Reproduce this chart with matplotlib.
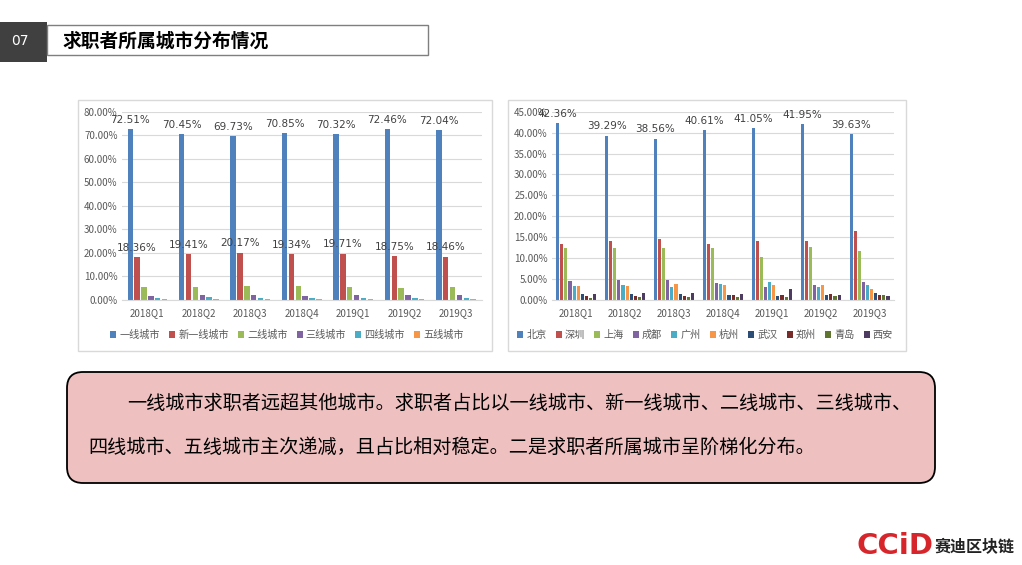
import numpy as np
import matplotlib
matplotlib.use("Agg")
import matplotlib.pyplot as plt
from matplotlib.patches import Rectangle, FancyBboxPatch

plt.rcParams["font.family"] = ["Noto Sans CJK SC", "DejaVu Sans"]

quarters = ["2018Q1", "2018Q2", "2018Q3", "2018Q4", "2019Q1", "2019Q2", "2019Q3"]

# left chart: city tiers (%)
tier_names = ["一线城市", "新一线城市", "二线城市", "三线城市", "四线城市", "五线城市"]
tier_1 = [72.51, 70.45, 69.73, 70.85, 70.32, 72.46, 72.04]
tier_new1 = [18.36, 19.41, 20.17, 19.34, 19.71, 18.75, 18.46]
tier_2 = [5.4, 5.4, 5.9, 5.9, 5.4, 5.0, 5.4]
tier_3 = [1.7, 2.1, 2.1, 1.7, 2.1, 2.1, 2.1]
tier_4 = [1.0, 1.3, 1.0, 0.9, 0.9, 0.9, 0.9]
tier_5 = [0.5, 0.5, 0.5, 0.5, 0.5, 0.5, 0.5]

# right chart: cities (%)
city_names = ["北京", "深圳", "上海", "成都", "广州", "杭州", "武汉", "郑州", "青岛", "西安"]
beijing = [42.36, 39.29, 38.56, 40.61, 41.05, 41.95, 39.63]
shenzhen = [13.5, 14.1, 14.6, 13.4, 14.1, 14.1, 16.5]
shanghai = [12.4, 12.4, 12.4, 12.4, 10.3, 12.7, 11.7]
chengdu = [4.5, 4.8, 4.8, 4.1, 3.1, 3.6, 4.3]
guangzhou = [3.3, 3.6, 3.1, 3.8, 4.3, 3.1, 3.6]
hangzhou = [3.3, 3.3, 3.8, 3.6, 3.6, 3.6, 2.6]
wuhan = [1.4, 1.4, 1.4, 1.2, 1.0, 1.2, 1.7]
zhengzhou = [1.0, 1.0, 1.0, 1.2, 1.2, 1.4, 1.2]
qingdao = [0.5, 0.7, 0.7, 0.7, 0.7, 1.0, 1.2]
xian = [1.4, 1.7, 1.7, 1.4, 2.6, 1.2, 1.0]

palette = ["#4F81BD", "#C0504D", "#9BBB59", "#8064A2", "#4BACC6",
           "#F79646", "#2C4D75", "#772C2A", "#5F7530", "#4D3B62"]

W, H = 1022, 565
fig = plt.figure(figsize=(W / 100, H / 100), dpi=100)

# background layer in pixel coords
bg = fig.add_axes([0, 0, 1, 1], zorder=0)
bg.set_xlim(0, W)
bg.set_ylim(H, 0)
bg.axis("off")

bg.add_patch(Rectangle((0, 22), 47, 40, facecolor="#404040", edgecolor="none"))
bg.text(20, 41, "07", color="white", fontsize=10, ha="center", va="center",
        family=["DejaVu Sans"])
bg.add_patch(Rectangle((47, 25), 381, 30, facecolor="white", edgecolor="#7f7f7f", lw=1))
bg.text(62, 41, "求职者所属城市分布情况", fontsize=13.5, fontweight="bold",
        ha="left", va="center", color="black")

bg.add_patch(Rectangle((78, 100), 414, 251, facecolor="white", edgecolor="#d9d9d9", lw=1))
bg.add_patch(Rectangle((508, 100), 398, 251, facecolor="white", edgecolor="#d9d9d9", lw=1))

bg.add_patch(FancyBboxPatch((67, 372), 868, 111, boxstyle="round,pad=0,rounding_size=16",
                            facecolor="#efc0c0", edgecolor="black", lw=1.3))
bg.text(127, 403, "一线城市求职者远超其他城市。求职者占比以一线城市、新一线城市、二线城市、三线城市、",
        fontsize=13.8, ha="left", va="center", color="black")
bg.text(88, 447, "四线城市、五线城市主次递减，且占比相对稳定。二是求职者所属城市呈阶梯化分布。",
        fontsize=13.8, ha="left", va="center", color="black")

bg.text(857, 546, "CCiD", color="#d7262b", fontsize=21, fontweight="bold",
        ha="left", va="center", family=["DejaVu Sans"])
bg.text(935, 547, "赛迪区块链", color="#222222", fontsize=11.5, fontweight="bold",
        ha="left", va="center")


def bar_panel(rect, series, names, ymax, ystep, labelled, bar_frac, group_frac, legend_x):
    ax = fig.add_axes(rect, zorder=1)
    ax.set_facecolor("none")
    n = len(series)
    x = np.arange(len(quarters))
    slot = group_frac / n
    for i, (vals, name) in enumerate(zip(series, names)):
        pos = x - group_frac / 2 + slot * (i + 0.5)
        bars = ax.bar(pos, vals, width=slot * bar_frac, color=palette[i], label=name, zorder=2)
        if i in labelled:
            for b, v in zip(bars, vals):
                ax.annotate(f"{v:.2f}%", (b.get_x() + b.get_width() / 2, v),
                            xytext=(0, 3), textcoords="offset points",
                            ha="center", va="bottom", fontsize=7.5, color="#404040",
                            family=["DejaVu Sans"])
    ax.set_xlim(-0.5, len(quarters) - 0.5)
    ax.set_ylim(0, ymax)
    ticks = np.arange(0, ymax + 0.01, ystep)
    ax.set_yticks(ticks)
    ax.set_yticklabels([f"{t:.2f}%" for t in ticks])
    ax.set_xticks(x)
    ax.set_xticklabels(quarters)
    ax.tick_params(axis="both", length=0, labelsize=7, labelcolor="#595959", pad=3)
    ax.tick_params(axis="x", pad=6)
    ax.grid(axis="y", color="#d9d9d9", lw=0.8, zorder=0)
    for s in ["top", "right", "left"]:
        ax.spines[s].set_visible(False)
    ax.spines["bottom"].set_color("#d9d9d9")
    fig.legend(*ax.get_legend_handles_labels(), loc="center",
               bbox_to_anchor=(legend_x / W, 1 - 335 / H), ncol=n, frameon=False,
               fontsize=7.3, handlelength=0.6, handleheight=0.6, handletextpad=0.3,
               columnspacing=0.9, labelcolor="#595959")
    return ax


bar_panel([121.7 / W, 1 - 300 / H, 360 / W, 188.3 / H],
          [tier_1, tier_new1, tier_2, tier_3, tier_4, tier_5], tier_names,
          80, 10, [0, 1], 0.8, 0.8, 287)
bar_panel([551.7 / W, 1 - 300 / H, 342.3 / W, 188.3 / H],
          [beijing, shenzhen, shanghai, chengdu, guangzhou, hangzhou,
           wuhan, zhengzhou, qingdao, xian], city_names,
          45, 5, [0], 0.75, 0.84, 705)

fig.savefig("out.png", dpi=100)
